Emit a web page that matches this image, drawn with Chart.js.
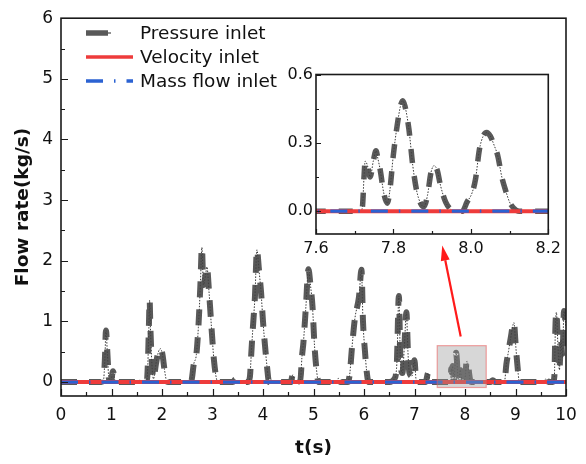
<!DOCTYPE html>
<html><head><meta charset="utf-8">
<script src="https://cdn.jsdelivr.net/npm/chart.js@4/dist/chart.umd.min.js"></script>
<style>
html,body{margin:0;padding:0;background:#fff;}
#wrap{position:relative;width:586px;height:464px;overflow:hidden;}
#main{position:absolute;left:0;top:0;}
#inset{position:absolute;left:266px;top:60px;}
</style></head><body>
<div id="wrap"><canvas id="main" width="586" height="464"></canvas><canvas id="inset" width="300" height="210"></canvas></div>
<script>
// ---------- data ----------
const seriesNames = ['Pressure inlet', 'Velocity inlet', 'Mass flow inlet'];
const timeS = [0,0.80,0.84,0.87,0.89,0.92,0.95,0.99,1.03,1.07,1.12,
 1.50,1.56,1.62,1.70,1.72,1.74,1.755,1.77,1.80,1.83,1.88,1.93,1.97,2.01,2.05,2.09,2.12,
 2.40,2.45,2.50,2.58,2.63,2.68,2.72,2.76,2.79,2.82,2.86,2.89,2.93,2.98,3.03,3.08,3.12,
 3.40,3.45,3.50,3.70,3.74,3.77,3.80,3.84,3.88,3.92,3.96,4.00,4.04,4.08,4.12,
 4.55,4.59,4.63,4.74,4.77,4.80,4.85,4.90,4.94,4.98,5.02,5.06,5.10,
 5.45,5.49,5.53,5.68,5.72,5.76,5.82,5.90,5.95,5.98,6.02,6.05,6.09,
 6.50,6.60,6.65,6.69,6.72,6.76,6.80,6.84,6.87,6.90,6.95,7.00,7.03,7.10,7.22,7.27,7.31,
 7.715,7.72,7.724,7.727,7.733,7.74,7.748,7.755,7.76,7.766,7.775,7.784,7.79,7.80,7.81,7.818,7.824,7.83,7.84,7.85,7.86,7.87,7.879,7.888,7.897,7.905,7.913,7.922,7.935,7.95,7.955,7.978,7.99,8.003,8.012,8.022,8.032,8.041,8.05,8.06,8.07,8.08,8.09,8.10,8.11,8.125,
 8.50,8.55,8.60,8.78,8.82,8.86,8.90,8.97,9.00,9.03,9.08,
 9.55,9.60,9.65,9.74,9.77,9.79,9.81,9.84,9.87,9.90,9.93,9.96,10.0];
const pressureInlet = [0,0,0.02,0.4,0.85,0.45,0.05,0.03,0.18,0.02,0,
 0,0.03,0.01,0.02,0.3,0.9,1.35,0.9,0.3,0.05,0.3,0.5,0.55,0.45,0.2,0.02,0,
 0,0.03,0,0.02,0.3,0.45,0.9,1.6,2.22,1.6,1.75,1.9,1.5,0.9,0.35,0.05,0,
 0,0.04,0,0,0.08,0.5,0.9,1.4,2.18,1.85,1.5,1.0,0.6,0.25,0,
 0,0.12,0,0.02,0.4,0.65,1.25,1.86,1.6,1.25,0.6,0.2,0,
 0,0.06,0,0,0.15,0.55,1.05,1.4,1.85,1.0,0.5,0.2,0,
 0,0.05,0.3,1.42,0.4,0.15,0.6,1.15,0.5,0.15,0.1,0.36,0.05,0,0,0.15,0,
 0,0.02,0.15,0.22,0.2,0.15,0.22,0.265,0.23,0.18,0.08,0.035,0.08,0.25,0.38,0.46,0.485,0.46,0.36,0.2,0.09,0.035,0.02,0.07,0.17,0.2,0.18,0.11,0.04,0.005,0,0,0.04,0.08,0.14,0.27,0.33,0.345,0.33,0.29,0.24,0.15,0.09,0.04,0.015,0,
 0,0.03,0,0,0.3,0.5,0.7,0.98,0.65,0.35,0,
 0,0.05,0,0,0.1,0.9,1.15,0.6,0.2,0.7,0.4,1.17,0.9];
const velocityT = [0, 10];
const velocityInlet = [0, 0];
const massFlowT = [0, 10];
const massFlowInlet = [0, 0];
const xTicks = [0,1,2,3,4,5,6,7,8,9,10];
const xMinor = [0.5,1.5,2.5,3.5,4.5,5.5,6.5,7.5,8.5,9.5];
const yTicks = [0,1,2,3,4,5,6];
const yMinor = [0.5,1.5,2.5,3.5,4.5,5.5];
const insetXTicks = [7.6,7.8,8.0,8.2];
const insetXMinor = [7.7,7.9,8.1];
const insetYTicks = [0.0,0.3,0.6];
const insetYMinor = [0.15,0.45];
const zoomBox = {x0:7.45, x1:8.42, y0:-0.09, y1:0.6};
const arrowFrom = {x:7.915, y:0.75};
const arrowTo = {x:7.55, y:2.25};

// ---------- styles ----------
const FONT = 'DejaVu Sans';
const C_P = 'rgba(66,66,66,0.88)', C_THIN = '#222', C_V = '#ee3b3b', C_M = '#2b62d2';
const DASH_M = [17, 11, 1.5, 11];
const pts = (xs, ys) => xs.map((x, i) => ({x: x, y: ys[i]}));

function datasets(dashP, wP) {
  return [
    {label: seriesNames[0], data: pts(timeS, pressureInlet), borderColor: C_P, borderWidth: wP, borderDash: dashP,
     pointRadius: 0, cubicInterpolationMode: 'monotone', order: 3},
    {label: '', data: pts(timeS, pressureInlet), borderColor: C_THIN, borderWidth: 0.9, borderDash: [1.5, 1.5],
     pointRadius: 0, cubicInterpolationMode: 'monotone', order: 4},
    {label: seriesNames[1], data: pts(velocityT, velocityInlet), borderColor: C_V, borderWidth: 4, pointRadius: 0, order: 2},
    {label: seriesNames[2], data: pts(massFlowT, massFlowInlet), borderColor: C_M, borderWidth: 3.2, borderDash: DASH_M, pointRadius: 0, order: 1}
  ];
}

function tickMarks(chart, cfg) {
  const {ctx, chartArea: a, scales: {x, y}} = chart;
  ctx.save();
  ctx.strokeStyle = '#1a1a1a';
  ctx.lineWidth = 1.2;
  ctx.beginPath();
  cfg.xMaj.forEach(v => { const p = Math.round(x.getPixelForValue(v)) + 0.5; ctx.moveTo(p, a.bottom); ctx.lineTo(p, a.bottom - cfg.maj); });
  cfg.xMin.forEach(v => { const p = Math.round(x.getPixelForValue(v)) + 0.5; ctx.moveTo(p, a.bottom); ctx.lineTo(p, a.bottom - cfg.min); });
  cfg.yMaj.forEach(v => { const p = Math.round(y.getPixelForValue(v)) + 0.5; ctx.moveTo(a.left, p); ctx.lineTo(a.left + cfg.maj, p); });
  cfg.yMin.forEach(v => { const p = Math.round(y.getPixelForValue(v)) + 0.5; ctx.moveTo(a.left, p); ctx.lineTo(a.left + cfg.min, p); });
  ctx.stroke();
  ctx.lineWidth = 1.6;
  ctx.strokeRect(a.left, a.top, a.right - a.left, a.bottom - a.top);
  ctx.restore();
}

// ---------- main chart ----------
const mainPlugin = {
  id: 'mainDeco',
  afterDatasetsDraw(chart) {
    const {ctx, scales: {x, y}} = chart;
    const bx0 = x.getPixelForValue(zoomBox.x0), bx1 = x.getPixelForValue(zoomBox.x1);
    const by0 = y.getPixelForValue(zoomBox.y0), by1 = y.getPixelForValue(zoomBox.y1);
    ctx.save();
    ctx.fillStyle = 'rgba(150,150,150,0.38)';
    ctx.fillRect(bx0, by1, bx1 - bx0, by0 - by1);
    ctx.strokeStyle = 'rgba(235,90,90,0.55)';
    ctx.lineWidth = 1.2;
    ctx.strokeRect(bx0, by1, bx1 - bx0, by0 - by1);
    const ax0 = x.getPixelForValue(arrowFrom.x), ay0 = y.getPixelForValue(arrowFrom.y);
    const ax1 = x.getPixelForValue(arrowTo.x), ay1 = y.getPixelForValue(arrowTo.y);
    const ang = Math.atan2(ay1 - ay0, ax1 - ax0), hl = 15, hw = 4.5;
    const bxh = ax1 - hl * Math.cos(ang), byh = ay1 - hl * Math.sin(ang);
    ctx.strokeStyle = '#ff1a1a'; ctx.fillStyle = '#ff1a1a'; ctx.lineWidth = 2.2;
    ctx.beginPath(); ctx.moveTo(ax0, ay0); ctx.lineTo(bxh, byh); ctx.stroke();
    ctx.beginPath();
    ctx.moveTo(ax1, ay1);
    ctx.lineTo(bxh + hw * Math.sin(ang), byh - hw * Math.cos(ang));
    ctx.lineTo(bxh - hw * Math.sin(ang), byh + hw * Math.cos(ang));
    ctx.closePath(); ctx.fill();
    ctx.restore();
    tickMarks(chart, {xMaj: xTicks, xMin: xMinor, yMaj: yTicks, yMin: yMinor, maj: 7, min: 4});
    const ds = chart.data.datasets;
    ctx.save();
    const rows = [33, 57, 81], lx0 = 86, lx1 = 133;
    ctx.lineCap = 'butt';
    ctx.strokeStyle = C_P; ctx.lineWidth = 5.5;
    ctx.beginPath(); ctx.moveTo(lx0, rows[0]); ctx.lineTo(108, rows[0]); ctx.stroke();
    ctx.strokeStyle = C_THIN; ctx.lineWidth = 1;
    ctx.beginPath(); ctx.moveTo(108, rows[0]); ctx.lineTo(111, rows[0]); ctx.stroke();
    ctx.strokeStyle = ds[2].borderColor; ctx.lineWidth = 3.5;
    ctx.beginPath(); ctx.moveTo(lx0, rows[1]); ctx.lineTo(lx1, rows[1]); ctx.stroke();
    ctx.strokeStyle = ds[3].borderColor; ctx.lineWidth = 3.5; ctx.setLineDash(DASH_M);
    ctx.beginPath(); ctx.moveTo(lx0, rows[2]); ctx.lineTo(lx1, rows[2]); ctx.stroke();
    ctx.setLineDash([]);
    ctx.fillStyle = '#111';
    ctx.font = '18.5px "' + FONT + '"';
    ctx.textBaseline = 'middle';
    ctx.textAlign = 'left';
    seriesNames.forEach((n, i) => ctx.fillText(n, 140, rows[i] + 1));
    ctx.restore();
  }
};

new Chart(document.getElementById('main'), {
  type: 'line',
  data: {datasets: datasets([16, 12], 6)},
  options: {
    responsive: false, animation: false, devicePixelRatio: 1,
    layout: {padding: {left: 0, top: 14, right: 20, bottom: 0}},
    plugins: {legend: {display: false}, tooltip: {enabled: false}},
    elements: {line: {borderCapStyle: 'butt'}},
    scales: {
      x: {type: 'linear', min: 0, max: 10,
          afterBuildTicks: s => { s.ticks = xTicks.map(v => ({value: v})); },
          afterFit: s => { s.height = 68; },
          grid: {display: false, drawTicks: false}, border: {display: false},
          ticks: {padding: 9, color: '#111', font: {family: FONT, size: 17}, maxRotation: 0, autoSkip: false},
          title: {display: true, text: 't(s)', color: '#111', font: {family: FONT, size: 18.5, weight: 'bold'}, padding: {top: 0, bottom: 5}}},
      y: {type: 'linear', min: -0.23, max: 6,
          afterBuildTicks: s => { s.ticks = yTicks.map(v => ({value: v})); },
          afterFit: s => { s.width = 61; },
          grid: {display: false, drawTicks: false}, border: {display: false},
          ticks: {padding: 8, color: '#111', font: {family: FONT, size: 17}},
          title: {display: true, text: 'Flow rate(kg/s)', color: '#111', font: {family: FONT, size: 18.5, weight: 'bold'}, padding: {top: 12, bottom: 0}}}
    }
  },
  plugins: [mainPlugin]
});

// ---------- inset ----------
const insetPlugin = {
  id: 'insetDeco',
  beforeDraw(chart) {
    const {ctx, chartArea: a} = chart;
    ctx.save(); ctx.fillStyle = '#fff';
    ctx.fillRect(a.left, a.top, a.right - a.left, a.bottom - a.top);
    ctx.restore();
  },
  afterDatasetsDraw(chart) {
    tickMarks(chart, {xMaj: insetXTicks, xMin: insetXMinor, yMaj: insetYTicks, yMin: insetYMinor, maj: 5, min: 3});
  }
};

new Chart(document.getElementById('inset'), {
  type: 'line',
  data: {datasets: datasets([14, 13], 5.5)},
  options: {
    responsive: false, animation: false, devicePixelRatio: 1,
    layout: {padding: {left: 0, top: 14.5, right: 17.7, bottom: 0}},
    plugins: {legend: {display: false}, tooltip: {enabled: false}},
    elements: {line: {borderCapStyle: 'butt'}},
    scales: {
      x: {type: 'linear', min: 7.6, max: 8.2,
          afterBuildTicks: s => { s.ticks = insetXTicks.map(v => ({value: v})); },
          afterFit: s => { s.height = 36; },
          grid: {display: false, drawTicks: false}, border: {display: false},
          ticks: {padding: 5, color: '#111', font: {family: FONT, size: 16}, maxRotation: 0, autoSkip: false,
                  callback: v => Number(v).toFixed(1)}},
      y: {type: 'linear', min: -0.1, max: 0.6,
          afterBuildTicks: s => { s.ticks = insetYTicks.map(v => ({value: v})); },
          afterFit: s => { s.width = 50; },
          grid: {display: false, drawTicks: false}, border: {display: false},
          ticks: {padding: 3, color: '#111', font: {family: FONT, size: 16}, callback: v => Number(v).toFixed(1)}}
    }
  },
  plugins: [insetPlugin]
});
</script>
</body></html>
